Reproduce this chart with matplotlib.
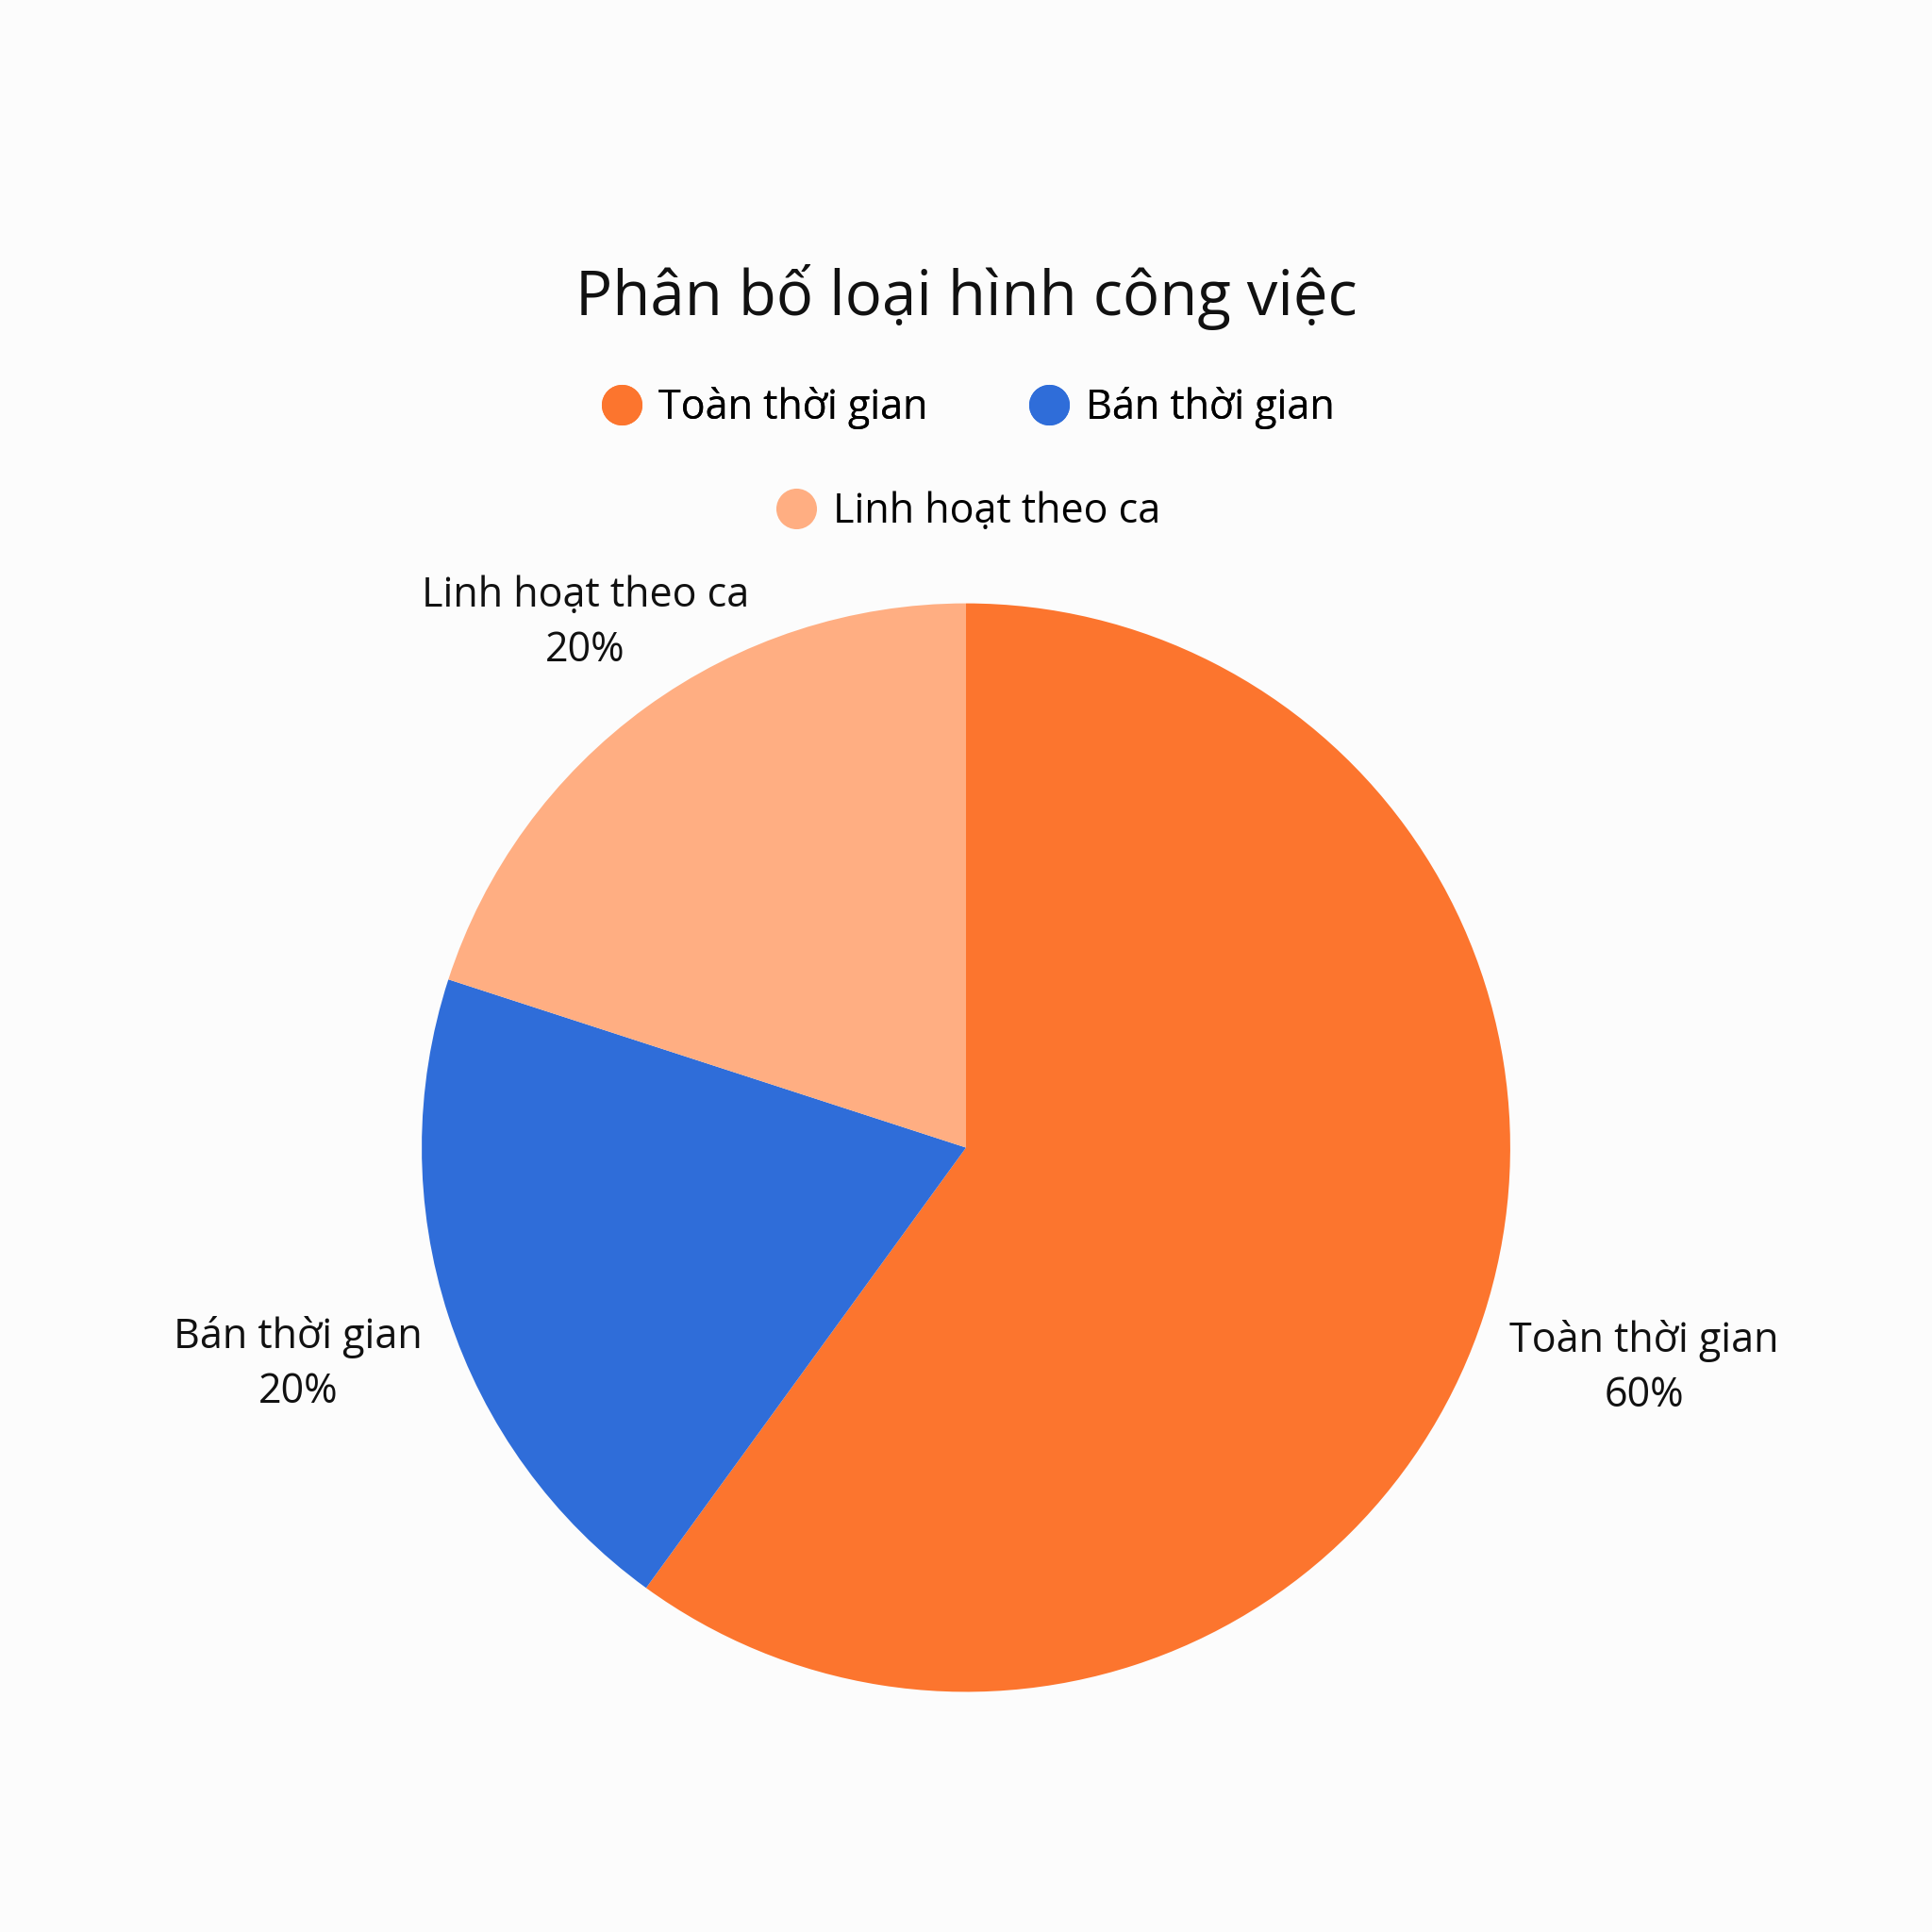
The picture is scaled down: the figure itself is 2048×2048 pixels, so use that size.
import matplotlib.pyplot as plt
import numpy as np
from matplotlib.lines import Line2D

plt.rcParams['font.family'] = ['Open Sans', 'DejaVu Sans']

# data
categories = ['Toàn thời gian', 'Bán thời gian', 'Linh hoạt theo ca']
values = [60, 20, 20]
colors = ['#FC752E', '#2F6DD9', '#FFAE82']
label_dist = [1.31, 1.29, 1.19]

fig = plt.figure(figsize=(20.48, 20.48), dpi=100, facecolor='#FCFCFC')
r = 0.2817
ax = fig.add_axes([0.5 - r, 0.406 - r, 2 * r, 2 * r])
ax.set_facecolor('#FCFCFC')

wedges, _ = ax.pie(values, colors=colors, startangle=90, counterclock=False,
                   radius=1, wedgeprops=dict(linewidth=0))
ax.set_xlim(-1, 1)
ax.set_ylim(-1, 1)
ax.set_aspect('equal')
ax.axis('off')

# outside labels
total = sum(values)
for w, cat, val, d in zip(wedges, categories, values, label_dist):
    mid = np.deg2rad((w.theta1 + w.theta2) / 2)
    ax.text(d * np.cos(mid), d * np.sin(mid), f'{cat}\n{val / total * 100:.0f}%',
            ha='center', va='center', fontsize=31, linespacing=1.4,
            color='#111111', clip_on=False)

fig.text(0.5, 0.846, 'Phân bố loại hình công việc', ha='center', va='center',
         fontsize=47, color='#111111')

def handle(c):
    return Line2D([], [], marker='o', linestyle='', markersize=31,
                  markerfacecolor=c, markeredgewidth=0)

leg1 = fig.legend([handle(colors[0]), handle(colors[1])], categories[:2],
                  loc='center', bbox_to_anchor=(0.5, 0.789), ncol=2,
                  frameon=False, fontsize=31, handletextpad=0.3,
                  columnspacing=2.4, handlelength=1.2)
leg2 = fig.legend([handle(colors[2])], categories[2:],
                  loc='center', bbox_to_anchor=(0.5, 0.735), ncol=1,
                  frameon=False, fontsize=31, handletextpad=0.3,
                  handlelength=1.2)
fig.add_artist(leg1)

fig.savefig('out.png', dpi=100, facecolor=fig.get_facecolor())
